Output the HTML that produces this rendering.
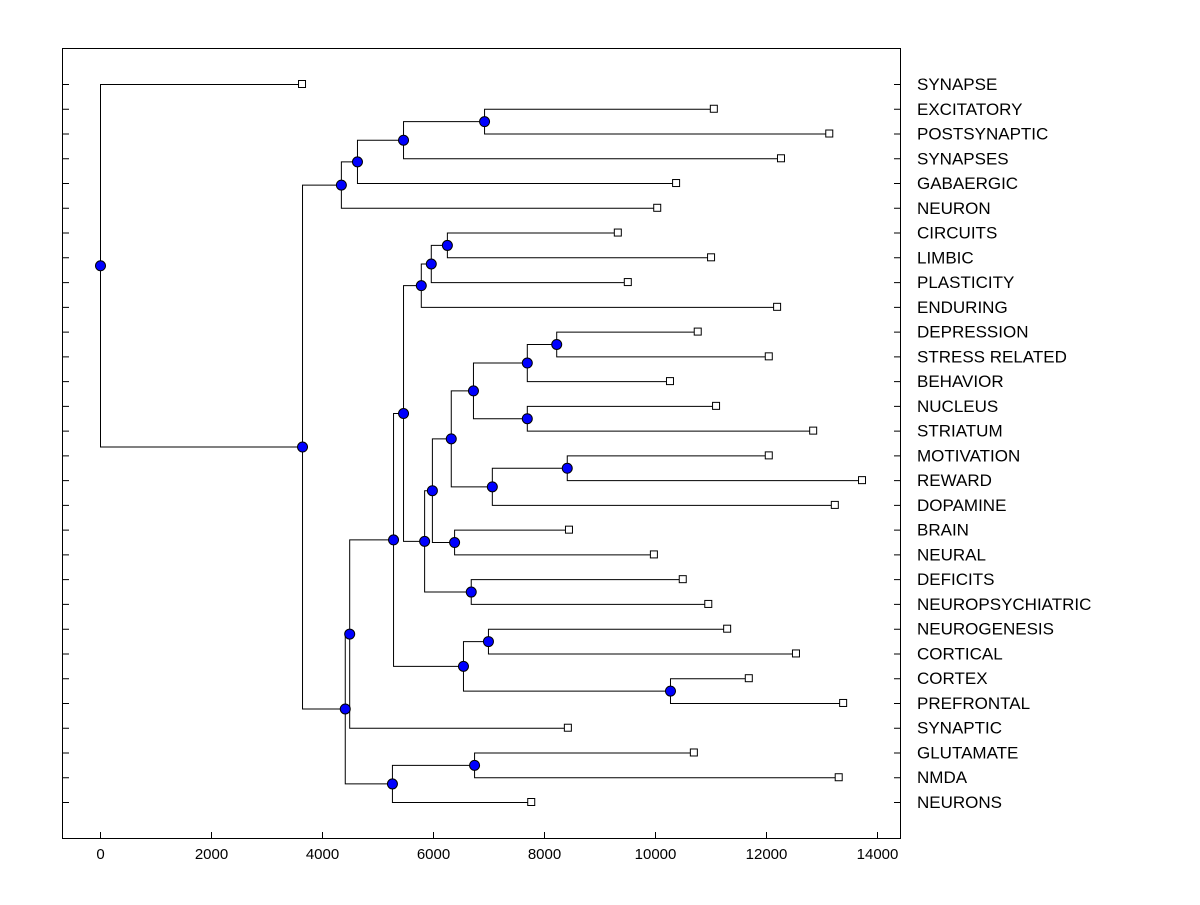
<!DOCTYPE html>
<html><head><meta charset="utf-8"><style>
html,body{margin:0;padding:0;background:#fff;}
svg text{font-family:"Liberation Sans",Arial,sans-serif;}
</style></head><body>
<svg id="chart" width="1200" height="900" xmlns="http://www.w3.org/2000/svg">
<rect x="62.5" y="48.5" width="838" height="790" fill="none" stroke="#000" stroke-width="1"/>
<g id="links"></g>
<g id="marks"></g>
<g id="axes"></g>
</svg>
<script>
const leafLabels = ["SYNAPSE","EXCITATORY","POSTSYNAPTIC","SYNAPSES","GABAERGIC","NEURON","CIRCUITS","LIMBIC","PLASTICITY","ENDURING","DEPRESSION","STRESS RELATED","BEHAVIOR","NUCLEUS","STRIATUM","MOTIVATION","REWARD","DOPAMINE","BRAIN","NEURAL","DEFICITS","NEUROPSYCHIATRIC","NEUROGENESIS","CORTICAL","CORTEX","PREFRONTAL","SYNAPTIC","GLUTAMATE","NMDA","NEURONS"];
const leafValues = [3640,11060,13140,12270,10380,10040,9330,11010,9510,12200,10770,12050,10270,11100,12850,12050,13730,13240,8450,9980,10500,10960,11300,12540,11690,13390,8430,10700,13310,7770];
const mergeLeft  = [1,30,31,32,6,34,35,10,37,13,38,15,41,40,18,43,20,45,36,22,24,49,48,52,27,54,53,33,0];
const mergeRight = [2,3,4,5,7,8,9,11,12,14,39,16,17,42,19,44,21,46,47,23,25,50,51,26,28,29,55,56,57];
const mergeHeight= [6920,5460,4630,4340,6250,5960,5780,8220,7690,7690,6720,8410,7060,6320,6380,5980,6680,5840,5460,6990,10270,6540,5280,4490,6740,5260,4410,3640,0];
const xTicks = [0,2000,4000,6000,8000,10000,12000,14000];

const NS="http://www.w3.org/2000/svg";
const xs = v => 100 + v*(777/14000);
const ys = i => 84 + i*(718/29);
const links=document.getElementById('links'), marks=document.getElementById('marks'), axes=document.getElementById('axes');
function mk(tag, attrs, parent){const e=document.createElementNS(NS,tag);for(const k in attrs)e.setAttribute(k,attrs[k]);parent.appendChild(e);return e;}

const nodeX=[], nodeY=[];
leafValues.forEach((v,i)=>{nodeX.push(xs(v));nodeY.push(ys(i));});
mergeHeight.forEach((h,k)=>{
  const a=mergeLeft[k], b=mergeRight[k];
  const x=xs(h), ya=nodeY[a], yb=nodeY[b];
  const p=mk('path',{d:`M${nodeX[a]},${ya+0.5}H${x+0.5}V${yb+0.5}H${nodeX[b]}`,fill:'none',stroke:'#000','stroke-width':1},links);
  
  
  nodeX.push(x); nodeY.push((ya+yb)/2);
});
leafValues.forEach((v,i)=>{
  const r=mk('rect',{x:xs(v)-3.5,y:ys(i)-3.5,width:7,height:7,fill:'#fff',stroke:'#000','stroke-width':1},marks);
  
  
  const t=mk('text',{x:917,y:ys(i)+6,'font-size':17,fill:'#000'},axes);
  t.textContent=leafLabels[i];
  
  
  const l=mk('path',{d:`M62,${ys(i)+0.5}H69M894,${ys(i)+0.5}H901`,stroke:'#000','stroke-width':1},axes);
  
  
});
for(let k=0;k<mergeHeight.length;k++){
  const n=leafValues.length+k;
  const c=mk('circle',{cx:nodeX[n]+0.5,cy:nodeY[n]+0.5,r:5,fill:'#0000ff',stroke:'#000','stroke-width':1},marks);
  
  
}
xTicks.forEach(v=>{
  const l=mk('path',{d:`M${xs(v)+0.5},838V832`,stroke:'#000','stroke-width':1},axes);
  
  
  const t=mk('text',{x:xs(v)+0.5,y:859,'font-size':15,'text-anchor':'middle',fill:'#000'},axes);
  t.textContent=v;
  
  
});
</script>
</body></html>
